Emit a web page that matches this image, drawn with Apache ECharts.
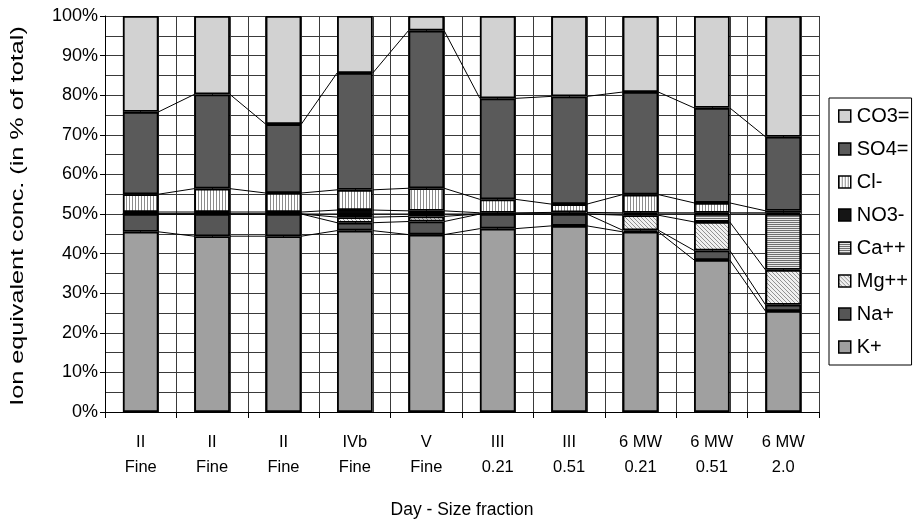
<!DOCTYPE html>
<html>
<head>
<meta charset="utf-8">
<script src="https://cdn.jsdelivr.net/npm/echarts@6/dist/echarts.min.js"></script>
<style>
html,body{margin:0;padding:0;background:#fff;}
#chart{width:914px;height:524px;}
</style>
</head>
<body>
<div id="chart"></div>
<script>
// ---- data ----
const categories = ['II\nFine','II\nFine','II\nFine','IVb\nFine','V\nFine','III\n0.21','III\n0.51','6 MW\n0.21','6 MW\n0.51','6 MW\n2.0'];
const seriesNames = ['K+','Na+','Mg++','Ca++','NO3-','Cl-','SO4=','CO3='];
const K   = [45.5, 44.4, 44.4, 45.8, 44.8, 46.3, 47.0, 45.5, 38.4, 25.5];
const Na  = [4.5, 5.6, 5.6, 2.0, 3.3, 3.7, 3.0, 0.4, 2.4, 1.6];
const Mg  = [0, 0, 0, 1.4, 1.3, 0, 0, 3.8, 7.2, 8.8];
const Ca  = [0, 0, 0, 0.8, 0.6, 0, 0, 0.3, 2.0, 14.1];
const NO3 = [0.5, 0.5, 0.5, 1.0, 0.8, 0.3, 0.4, 0.3, 0.3, 0.3];
const Cl  = [4.5, 5.9, 4.8, 5.1, 5.7, 3.4, 2.1, 4.6, 2.5, 0.5];
const SO4 = [20.8, 23.8, 17.4, 29.5, 39.8, 25.5, 27.2, 25.9, 24.0, 18.7];
const CO3 = [24.2, 19.8, 27.3, 14.4, 3.7, 20.8, 20.3, 19.2, 23.2, 30.5];
const values = [K, Na, Mg, Ca, NO3, Cl, SO4, CO3];
const legendOrder = ['CO3=','SO4=','Cl-','NO3-','Ca++','Mg++','Na+','K+'];
const yTitle = 'Ion equivalent conc. (in % of total)';
const xTitle = 'Day - Size fraction';

// ---- patterns ----
function pattern(w, h, draw) {
  const c = document.createElement('canvas');
  c.width = w; c.height = h;
  const ctx = c.getContext('2d');
  draw(ctx);
  return { image: c, repeat: 'repeat' };
}
const clPattern = pattern(3, 3, ctx => {
  ctx.fillStyle = '#ffffff'; ctx.fillRect(0, 0, 3, 3);
  ctx.fillStyle = '#8c8c8c'; ctx.fillRect(0, 0, 1, 3);
});
const caPattern = pattern(2, 2, ctx => {
  ctx.fillStyle = '#e8e8e8'; ctx.fillRect(0, 0, 2, 2);
  ctx.fillStyle = '#6e6e6e'; ctx.fillRect(0, 0, 2, 1);
});
const mgPattern = pattern(4, 4, ctx => {
  ctx.fillStyle = '#f0f0f0'; ctx.fillRect(0, 0, 4, 4);
  ctx.fillStyle = '#929292';
  for (let i = 0; i < 4; i++) ctx.fillRect(i, i, 1, 1);
});
const fills = ['#a0a0a0', '#565656', mgPattern, caPattern, '#151515', clPattern, '#5a5a5a', '#d2d2d2'];

// ---- build series ----
const barSeries = seriesNames.map((name, s) => ({
  name: name,
  type: 'bar',
  stack: 'total',
  barWidth: '50%',
  data: values[s],
  itemStyle: { color: fills[s], borderColor: '#000', borderWidth: 1.8 },
  emphasis: { disabled: true },
  z: 3
}));

// series lines between adjacent bars (top of each segment)
const lineData = [];
for (let i = 0; i < categories.length - 1; i++) {
  let cumA = 0, cumB = 0;
  for (let s = 0; s < values.length - 1; s++) {
    cumA += values[s][i];
    cumB += values[s][i + 1];
    lineData.push([i, cumA, cumB]);
  }
}
const seriesLines = {
  type: 'custom',
  silent: true,
  z: 4,
  encode: { x: 0, y: [1, 2] },
  data: lineData,
  renderItem: function (params, api) {
    const i = api.value(0);
    const p1 = api.coord([i, api.value(1)]);
    const p2 = api.coord([i + 1, api.value(2)]);
    const hw = api.size([1, 0])[0] * 0.25;
    return {
      type: 'line',
      shape: { x1: p1[0] + hw, y1: p1[1], x2: p2[0] - hw, y2: p2[1] },
      style: { stroke: '#000', lineWidth: 1 }
    };
  }
};

const font = 'Liberation Sans';
const chart = echarts.init(document.getElementById('chart'), null, { renderer: 'canvas' });
chart.setOption({
  animation: false,
  backgroundColor: '#fff',
  textStyle: { fontFamily: font },
  grid: { left: 105, right: 95, top: 16, bottom: 112, containLabel: false },
  graphic: [{
    type: 'text',
    x: 18,
    y: 216,
    rotation: Math.PI / 2,
    scaleX: 1.4,
    silent: true,
    style: {
      text: yTitle,
      fontFamily: font,
      fontSize: 18,
      fill: '#000',
      align: 'center',
      verticalAlign: 'middle'
    }
  }],
  legend: {
    data: legendOrder,
    orient: 'vertical',
    left: 829,
    top: 98,
    width: 84,
    itemWidth: 12,
    itemHeight: 12,
    itemGap: 13,
    padding: [8, 2, 8, 9],
    borderColor: '#000',
    borderWidth: 1,
    backgroundColor: '#fff',
    selectedMode: false,
    icon: 'rect',
    itemStyle: { borderColor: '#000', borderWidth: 1.5 },
    textStyle: { fontFamily: font, fontSize: 20, color: '#000', lineHeight: 20, padding: [0, 0, 0, 1] }
  },
  xAxis: [{
    type: 'category',
    data: categories,
    axisLine: { lineStyle: { color: '#000', width: 1 } },
    axisTick: { show: true, length: 6, lineStyle: { color: '#000' } },
    axisLabel: { color: '#000', fontFamily: font, fontSize: 16.5, lineHeight: 25, margin: 18, interval: 0 },
    splitLine: { show: false },
    name: xTitle,
    nameLocation: 'middle',
    nameGap: 89,
    nameTextStyle: { color: '#000', fontFamily: font, fontSize: 17.5 }
  }, {
    type: 'value',
    min: 0,
    max: 40,
    interval: 1,
    position: 'top',
    axisLine: { show: false },
    axisTick: { show: false },
    axisLabel: { show: false },
    splitLine: { show: true, lineStyle: { color: '#3a3a3a', width: 1 } }
  }],
  yAxis: {
    type: 'value',
    min: 0,
    max: 100,
    interval: 10,
    axisLine: { show: true, lineStyle: { color: '#000', width: 1 } },
    axisTick: { show: true, length: 5, lineStyle: { color: '#000' } },
    axisLabel: { color: '#000', fontFamily: font, fontSize: 18, formatter: '{value}%', margin: 7 },
    splitLine: { show: true, lineStyle: { color: '#3a3a3a', width: 1 } },
    minorTick: { show: false, splitNumber: 2 },
    minorSplitLine: { show: true, lineStyle: { color: '#3a3a3a', width: 1 } }
  },
  series: barSeries.concat([seriesLines])
});
</script>
</body>
</html>
